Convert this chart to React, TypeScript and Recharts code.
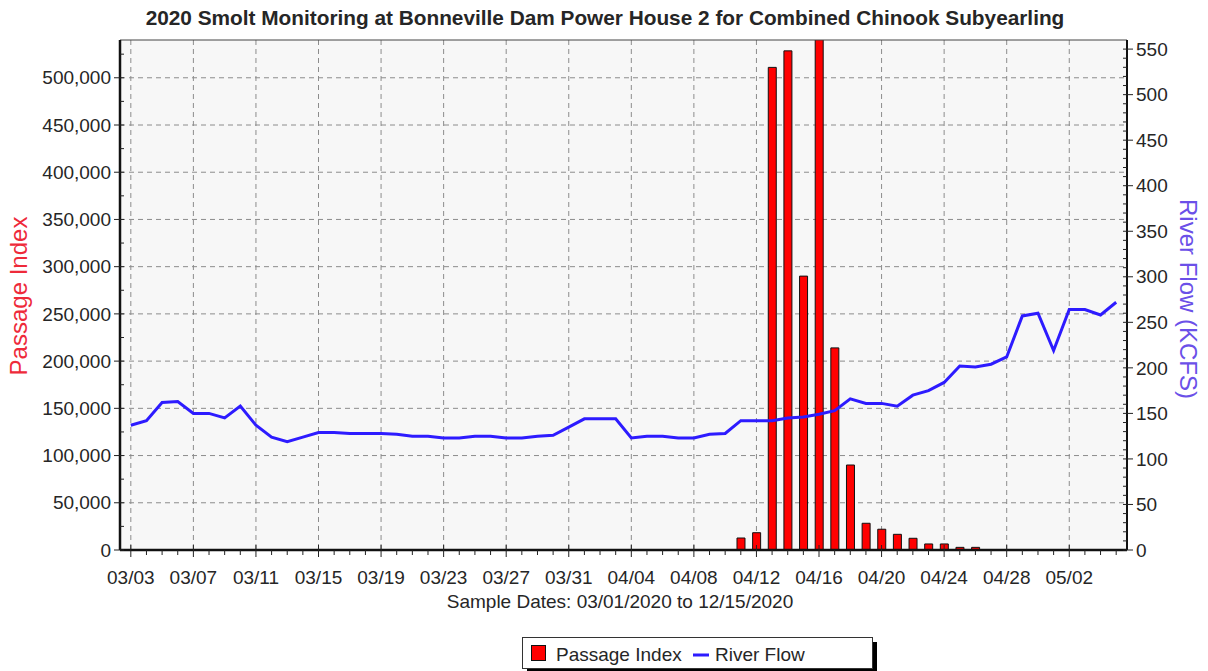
import React from "react";
import {
  ComposedChart,
  Bar,
  Line,
  XAxis,
  YAxis,
  CartesianGrid,
  ReferenceLine,
} from "recharts";

// sample dates, one per day
const dates = [
  "03/03", "03/04", "03/05", "03/06", "03/07", "03/08", "03/09", "03/10",
  "03/11", "03/12", "03/13", "03/14", "03/15", "03/16", "03/17", "03/18",
  "03/19", "03/20", "03/21", "03/22", "03/23", "03/24", "03/25", "03/26",
  "03/27", "03/28", "03/29", "03/30", "03/31", "04/01", "04/02", "04/03",
  "04/04", "04/05", "04/06", "04/07", "04/08", "04/09", "04/10", "04/11",
  "04/12", "04/13", "04/14", "04/15", "04/16", "04/17", "04/18", "04/19",
  "04/20", "04/21", "04/22", "04/23", "04/24", "04/25", "04/26", "04/27",
  "04/28", "04/29", "04/30", "05/01", "05/02", "05/03", "05/04", "05/05",
];

// labelled dates on the x axis
const dateTicks = [
  "03/03", "03/07", "03/11", "03/15", "03/19", "03/23", "03/27", "03/31",
  "04/04", "04/08", "04/12", "04/16", "04/20", "04/24", "04/28", "05/02",
];

// Passage Index (fish)
const passageIndex = [
  0, 0, 0, 0, 0, 0, 0, 0,
  0, 0, 0, 0, 0, 0, 0, 0,
  0, 0, 0, 0, 0, 0, 0, 0,
  0, 0, 0, 0, 0, 0, 0, 0,
  0, 0, 0, 0, 0, 0, 0, 12700,
  18300, 511000, 528500, 290000, 560000, 214000, 90000, 28300,
  22000, 16600, 12400, 6400, 6400, 2800, 2800, 0,
  0, 0, 0, 0, 0, 0, 0, 0,
];

// River Flow (KCFS)
const riverFlow = [
  137, 142, 162, 163, 150, 150, 145, 158,
  137, 124, 119, 124, 129, 129, 128, 128,
  128, 127, 125, 125, 123, 123, 125, 125,
  123, 123, 125, 126, 135, 144, 144, 144,
  123, 125, 125, 123, 123, 127, 128, 142,
  142, 142, 145, 146, 149, 153, 166, 161,
  161, 158, 170, 175, 184, 202, 201, 204,
  212, 257, 260, 219, 264, 264, 258, 272,
];

const leftMajorTicks = [
  0, 50000, 100000, 150000, 200000, 250000, 300000, 350000, 400000, 450000, 500000,
];
const rightMajorTicks = [0, 50, 100, 150, 200, 250, 300, 350, 400, 450, 500, 550];

// minor ticks every 25,000 on the left and every 10 on the right
const leftTicks = leftMajorTicks.flatMap((v) => [v, v + 25000]);
const rightTicks = rightMajorTicks
  .flatMap((v) => [v, v + 10, v + 20, v + 30, v + 40])
  .filter((v) => v <= 558);

const data = dates.map((date, i) => ({
  date,
  passage: passageIndex[i],
  flow: riverFlow[i],
}));

const FONT = "Arial, 'Liberation Sans', sans-serif";
const TEXT = "#262626";

const XTick = (props: any) => {
  const { x, y, payload } = props;
  const major = dateTicks.includes(payload.value);
  return (
    <g>
      <line x1={x} x2={x} y1={major ? y - 5 : y} y2={y + (major ? 7 : 5)} stroke="#222" />
      {major && (
        <text x={x} y={y + 34} textAnchor="middle" fontSize={19} fill={TEXT}>
          {payload.value}
        </text>
      )}
    </g>
  );
};

const LeftTick = (props: any) => {
  const { x, y, payload } = props;
  const major = payload.value % 50000 === 0;
  return (
    <g>
      <line x1={major ? x - 6 : x} x2={x + 4} y1={y} y2={y} stroke="#222" />
      {major && (
        <text x={x - 9} y={y} dy="0.35em" textAnchor="end" fontSize={19} fill={TEXT}>
          {payload.value.toLocaleString("en-US")}
        </text>
      )}
    </g>
  );
};

const RightTick = (props: any) => {
  const { x, y, payload } = props;
  const major = payload.value % 50 === 0;
  return (
    <g>
      <line x1={x - 4} x2={major ? x + 6 : x} y1={y} y2={y} stroke="#222" />
      {major && (
        <text x={x + 9} y={y} dy="0.35em" textAnchor="start" fontSize={19} fill={TEXT}>
          {payload.value}
        </text>
      )}
    </g>
  );
};

export default function App() {
  return (
    <div
      style={{
        position: "absolute",
        left: 0,
        top: 0,
        width: 1208,
        height: 671,
        background: "#fff",
        fontFamily: FONT,
      }}
    >
      <ComposedChart
        width={1208}
        height={671}
        data={data}
        margin={{ top: 40, right: 0, bottom: 0, left: 0 }}
        barCategoryGap={0}
      >
        <CartesianGrid
          yAxisId="left"
          stroke="#8c8c8c"
          strokeDasharray="5 4"
          fill="#f7f7f7"
          fillOpacity={1}
          horizontalValues={leftMajorTicks.slice(1)}
          verticalValues={dateTicks}
        />
        <XAxis
          dataKey="date"
          height={121}
          interval={0}
          padding={{ left: 3, right: 3 }}
          tickSize={0}
          tickMargin={0}
          tickLine={false}
          tick={<XTick />}
          axisLine={{ stroke: "#111", strokeWidth: 2.5 }}
        />
        <YAxis
          yAxisId="left"
          width={120}
          domain={[0, 540000]}
          allowDataOverflow
          ticks={leftTicks}
          interval={0}
          tickSize={0}
          tickMargin={0}
          tickLine={false}
          tick={<LeftTick />}
          axisLine={{ stroke: "#111", strokeWidth: 2.5 }}
        />
        <YAxis
          yAxisId="right"
          orientation="right"
          width={81}
          domain={[0, 560]}
          allowDataOverflow
          ticks={rightTicks}
          interval={0}
          tickSize={0}
          tickMargin={0}
          tickLine={false}
          tick={<RightTick />}
          axisLine={{ stroke: "#111", strokeWidth: 2 }}
        />
        <ReferenceLine yAxisId="left" y={540000} stroke="#444" strokeWidth={1} />
        <Bar
          yAxisId="left"
          dataKey="passage"
          fill="#ff0000"
          stroke="#111"
          strokeWidth={1}
          barSize={8}
          isAnimationActive={false}
        />
        <Line
          yAxisId="right"
          type="linear"
          dataKey="flow"
          stroke="#2d1bff"
          strokeWidth={3}
          dot={false}
          activeDot={false}
          isAnimationActive={false}
        />
      </ComposedChart>

      <svg
        width={1208}
        height={671}
        style={{ position: "absolute", left: 0, top: 0, pointerEvents: "none" }}
      >
        <text x={605} y={25} textAnchor="middle" fontSize={20.8} fontWeight="bold" fill={TEXT}>
          2020 Smolt Monitoring at Bonneville Dam Power House 2 for Combined Chinook Subyearling
        </text>
        <text
          x={27}
          y={296}
          transform="rotate(-90 27 296)"
          textAnchor="middle"
          fontSize={24}
          fill="#ee2a3a"
        >
          Passage Index
        </text>
        <text
          x={1180}
          y={299}
          transform="rotate(90 1180 299)"
          textAnchor="middle"
          fontSize={24}
          fill="#6b50e8"
        >
          River Flow (KCFS)
        </text>
        <text x={620} y={608} textAnchor="middle" fontSize={19} fill={TEXT}>
          Sample Dates: 03/01/2020 to 12/15/2020
        </text>

        {/* legend */}
        <rect x={527} y={642} width={350} height={31} fill="#000" />
        <rect x={522.5} y={637.5} width={350} height={31} fill="#fff" stroke="#333" />
        <rect x={531.5} y={645.5} width={14} height={15} fill="#ff0000" stroke="#111" />
        <text x={556} y={661} fontSize={19} fill={TEXT}>
          Passage Index
        </text>
        <line x1={693} x2={709} y1={655} y2={655} stroke="#2d1bff" strokeWidth={3} />
        <text x={715} y={661} fontSize={19} fill={TEXT}>
          River Flow
        </text>
      </svg>
    </div>
  );
}
